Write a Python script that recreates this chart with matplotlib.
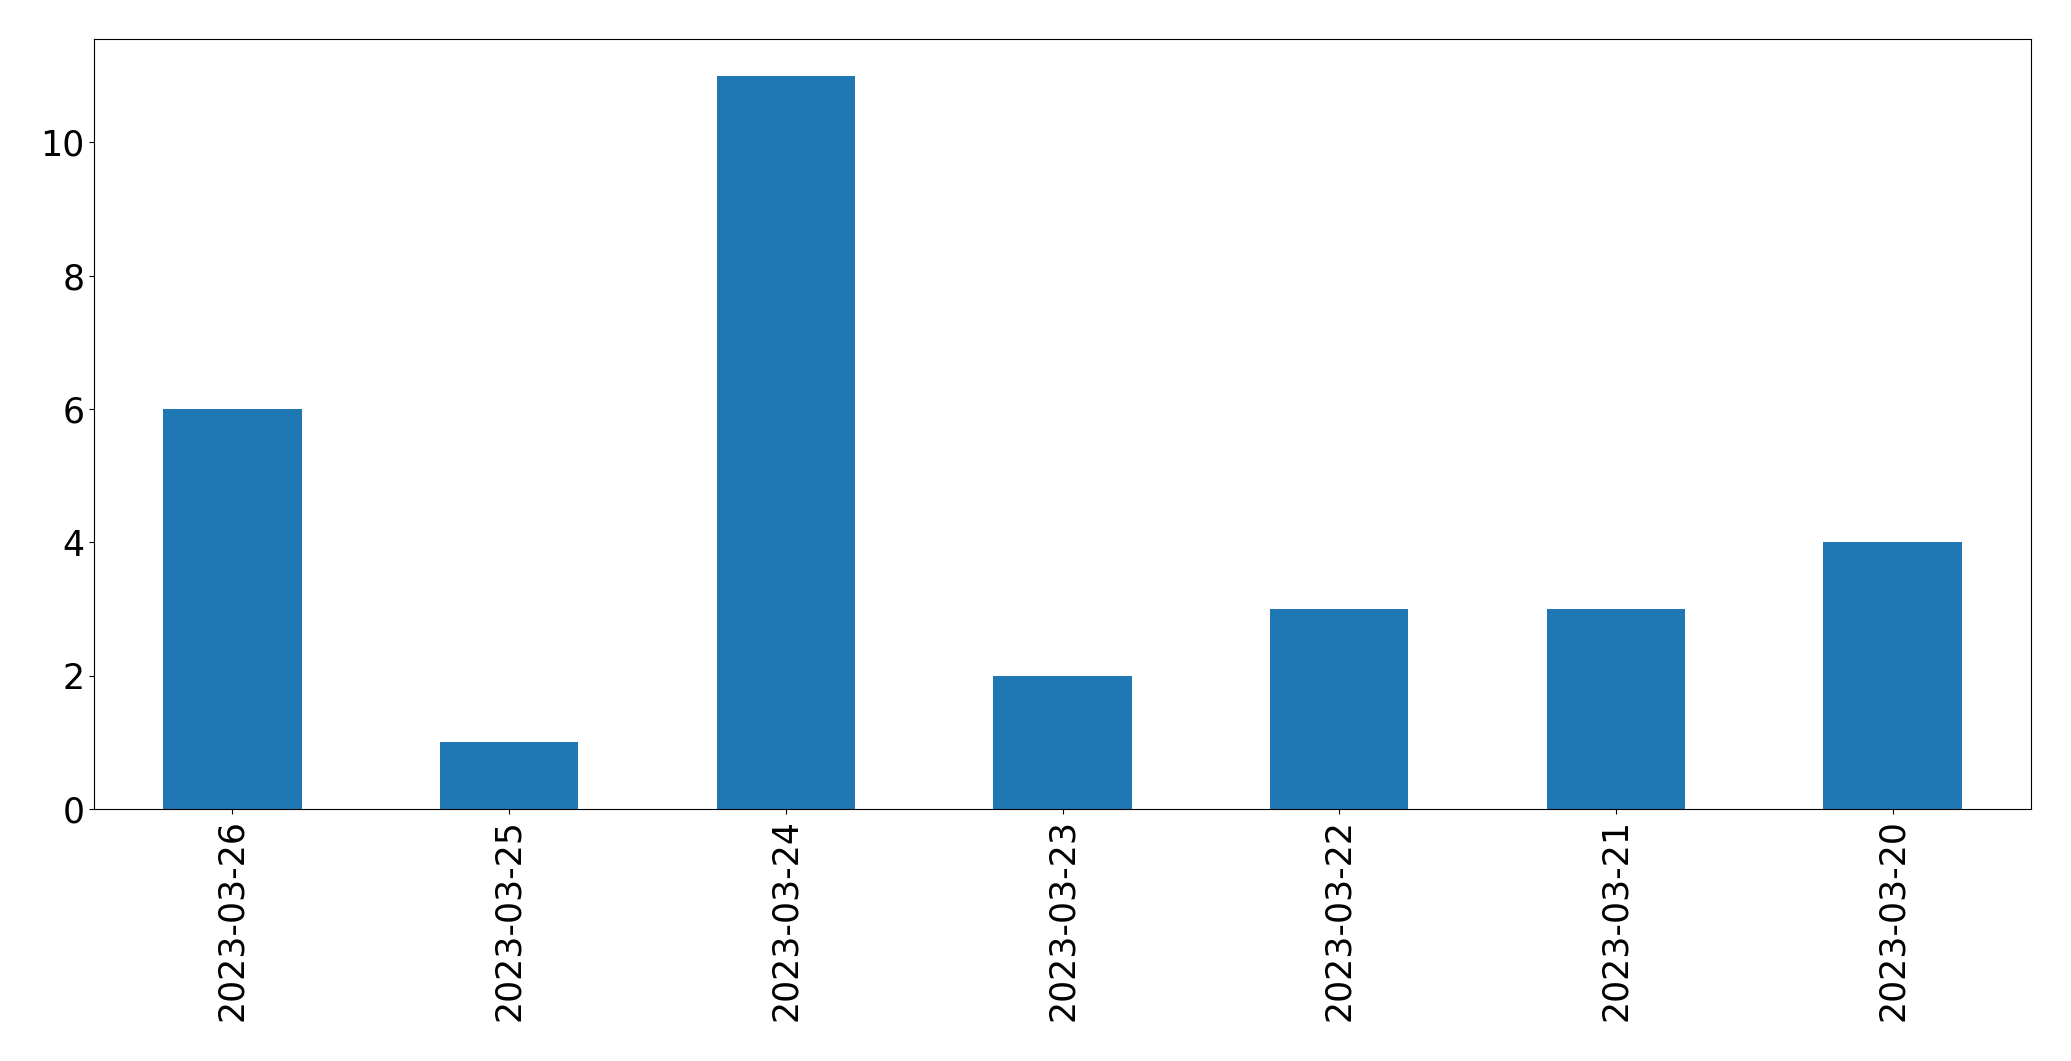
import matplotlib
matplotlib.use("Agg")
import matplotlib.pyplot as plt

dates = ["2023-03-26", "2023-03-25", "2023-03-24", "2023-03-23",
         "2023-03-22", "2023-03-21", "2023-03-20"]
counts = [6, 1, 11, 2, 3, 3, 4]

fig = plt.figure(figsize=(20.71, 10.61), dpi=100)
ax = fig.add_axes([94 / 2071, 1 - 809 / 1061, (2031 - 94) / 2071, (809 - 39) / 1061])
x = list(range(len(dates)))
ax.bar(x, counts, width=0.5, color="#1f77b4")
ax.set_xlim(-0.5, len(dates) - 0.5)
ax.set_xticks(x)
ax.set_xticklabels(dates, rotation=90, fontsize=25)
ax.tick_params(axis="y", labelsize=25)
ax.set_yticks([0, 2, 4, 6, 8, 10])
ax.set_ylim(0, 11.55)
fig.savefig("out.png", dpi=100)
